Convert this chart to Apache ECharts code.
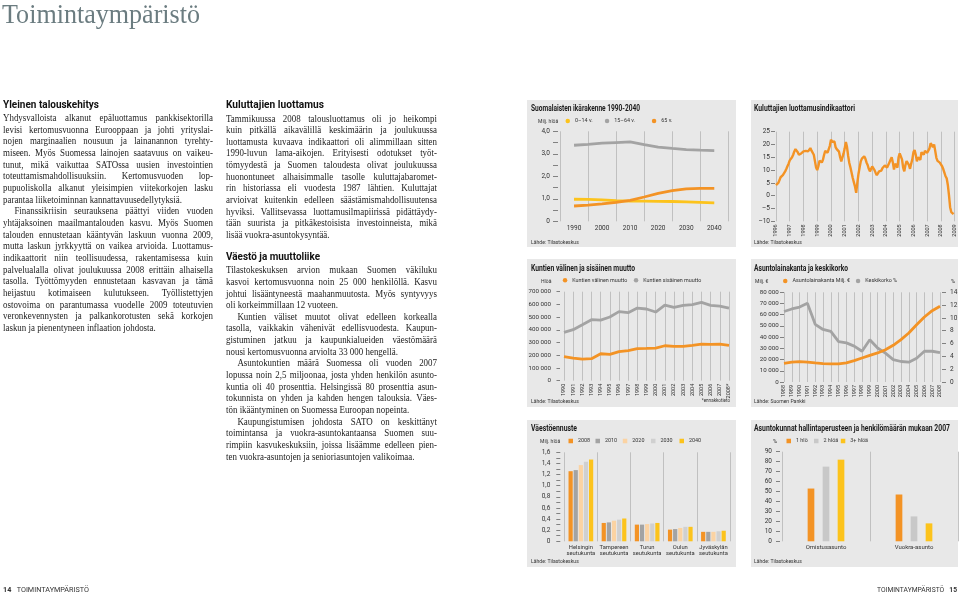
<!DOCTYPE html>
<html lang="fi"><head><meta charset="utf-8"><title>Toimintaympäristö</title>
<script src="https://cdn.jsdelivr.net/npm/echarts@6/dist/echarts.min.js"></script>
<style>
html,body{margin:0;padding:0;background:#fff;}
#page{position:relative;width:960px;height:593px;overflow:hidden;}
#chart{position:absolute;left:0;top:0;width:960px;height:593px;}
.title{position:absolute;left:2px;top:-2.5px;font-family:'Liberation Serif','DejaVu Serif',serif;font-size:27.5px;line-height:32px;color:#6b7c80;white-space:nowrap;transform-origin:0 0;}
.h{position:absolute;font-family:Roboto,sans-serif;font-weight:bold;font-size:11.5px;line-height:13px;color:#111;white-space:nowrap;transform-origin:0 0;}
.t{position:absolute;font-family:'Liberation Serif','DejaVu Serif',serif;font-size:10.2px;line-height:11.67px;color:#222;transform-origin:0 0;}
.t div{height:11.67px;text-align:justify;text-align-last:justify;white-space:nowrap;}
.t div.l{text-align-last:left;}
.t div.i{text-indent:13px;}
.foot{position:absolute;top:584.5px;font-family:Roboto,sans-serif;font-size:7px;line-height:10px;color:#333;white-space:nowrap;transform-origin:0 0;}
.foot b{font-weight:bold;}
</style></head>
<body><div id="page">
<div id="chart"></div>
<div class="title" data-w="198">Toimintaympäristö</div>

<div class="h" data-w="96" style="left:3px;top:98px;">Yleinen talouskehitys</div>
<div class="t" style="left:3px;top:112px;width:240px;transform:scaleX(0.875);">
<div>Yhdysvalloista alkanut epäluottamus pankkisektorilla</div>
<div>levisi kertomusvuonna Eurooppaan ja johti yrityslai-</div>
<div>nojen marginaalien nousuun ja lainanannon tyrehty-</div>
<div>miseen. Myös Suomessa lainojen saatavuus on vaikeu-</div>
<div>tunut, mikä vaikuttaa SATOssa uusien investointien</div>
<div>toteuttamismahdollisuuksiin. Kertomusvuoden lop-</div>
<div>pupuoliskolla alkanut yleisimpien viitekorkojen lasku</div>
<div class="l">parantaa liiketoiminnan kannattavuusedellytyksiä.</div>
<div class="i">Finanssikriisin seurauksena päättyi viiden vuoden</div>
<div>yhtäjaksoinen maailmantalouden kasvu. Myös Suomen</div>
<div>talouden ennustetaan kääntyvän laskuun vuonna 2009,</div>
<div>mutta laskun jyrkkyyttä on vaikea arvioida. Luottamus-</div>
<div>indikaattorit niin teollisuudessa, rakentamisessa kuin</div>
<div>palvelualalla olivat joulukuussa 2008 erittäin alhaisella</div>
<div>tasolla. Työttömyyden ennustetaan kasvavan ja tämä</div>
<div>heijastuu kotimaiseen kulutukseen. Työllistettyjen</div>
<div>ostovoima on parantumassa vuodelle 2009 toteutuvien</div>
<div>veronkevennysten ja palkankorotusten sekä korkojen</div>
<div class="l">laskun ja pienentyneen inflaation johdosta.</div>
</div>

<div class="h" data-w="98" style="left:226px;top:98px;">Kuluttajien luottamus</div>
<div class="t" style="left:226px;top:112.5px;width:241px;transform:scaleX(0.8755);">
<div>Tammikuussa 2008 talousluottamus oli jo heikompi</div>
<div>kuin pitkällä aikavälillä keskimäärin ja joulukuussa</div>
<div>luottamusta kuvaava indikaattori oli alimmillaan sitten</div>
<div>1990-luvun lama-aikojen. Erityisesti odotukset työt-</div>
<div>tömyydestä ja Suomen taloudesta olivat joulukuussa</div>
<div>huonontuneet alhaisimmalle tasolle kuluttajabaromet-</div>
<div>rin historiassa eli vuodesta 1987 lähtien. Kuluttajat</div>
<div>arvioivat kuitenkin edelleen säästämismahdollisuutensa</div>
<div>hyviksi. Vallitsevassa luottamusilmapiirissä pidättäydy-</div>
<div>tään suurista ja pitkäkestoisista investoinneista, mikä</div>
<div class="l">lisää vuokra-asuntokysyntää.</div>
</div>

<div class="h" data-w="94" style="left:226px;top:249.5px;">Väestö ja muuttoliike</div>
<div class="t" style="left:226px;top:264.2px;width:241px;transform:scaleX(0.8755);">
<div>Tilastokeskuksen arvion mukaan Suomen väkiluku</div>
<div>kasvoi kertomusvuonna noin 25 000 henkilöllä. Kasvu</div>
<div>johtui lisääntyneestä maahanmuutosta. Myös syntyvyys</div>
<div class="l">oli korkeimmillaan 12 vuoteen.</div>
<div class="i">Kuntien väliset muutot olivat edelleen korkealla</div>
<div>tasolla, vaikkakin vähenivät edellisvuodesta. Kaupun-</div>
<div>gistuminen jatkuu ja kaupunkialueiden väestömäärä</div>
<div class="l">nousi kertomusvuonna arviolta 33 000 hengellä.</div>
<div class="i">Asuntokuntien määrä Suomessa oli vuoden 2007</div>
<div>lopussa noin 2,5 miljoonaa, josta yhden henkilön asunto-</div>
<div>kuntia oli 40 prosenttia. Helsingissä 80 prosenttia asun-</div>
<div>tokunnista on yhden ja kahden hengen talouksia. Väes-</div>
<div class="l">tön ikääntyminen on Suomessa Euroopan nopeinta.</div>
<div class="i">Kaupungistumisen johdosta SATO on keskittänyt</div>
<div>toimintansa ja vuokra-asuntokantaansa Suomen suu-</div>
<div>rimpiin kasvukeskuksiin, joissa lisäämme edelleen pien-</div>
<div class="l">ten vuokra-asuntojen ja senioriasuntojen valikoimaa.</div>
</div>

<div class="foot" data-w="86" style="left:3px;"><b>14</b>&nbsp;&nbsp;&nbsp;TOIMINTAYMPÄRISTÖ</div>
<div class="foot" data-w="80" data-right="957" style="left:877px;">TOIMINTAYMPÄRISTÖ&nbsp;&nbsp;&nbsp;<b>15</b></div>
</div>
<script>
// ---------- DATA ----------
// Suomalaisten ikärakenne 1990-2040 (milj. hlöä)
const ageYears = ['1985','1990','1995','2000','2005','2010','2015','2020','2025','2030','2035','2040','2045'];
const age0to14 = [null,0.98,0.97,0.95,0.92,0.90,0.90,0.89,0.88,0.86,0.84,0.82,null];
const age15to64 = [null,3.38,3.42,3.47,3.50,3.53,3.41,3.30,3.24,3.19,3.16,3.14,null];
const age65plus = [null,0.68,0.72,0.77,0.84,0.93,1.08,1.24,1.36,1.44,1.46,1.46,null];

// Kuluttajien luottamusindikaattori, kuukausittain 1996-2008
const confYears = ['1996','1997','1998','1999','2000','2001','2002','2003','2004','2005','2006','2007','2008','2009'];
const confidence = [
 4.1,4.6,5,6,7.2,7.5,8,8.5,9.5,10.4,11.5,12.5,
 13.8,14.5,15,16,17.3,18.2,18.4,17,16,15.5,16.5,17,
 17.3,16.7,17.5,18,17.3,18,18.6,17.6,17.8,16,13.5,11,
 10,11.5,13.7,14,13,14,16,17.5,17,16.8,17.3,19.5,
 21.9,21,20.8,21.2,19,18.2,18.6,17.2,15,13.4,15,16.5,
 18.5,21,19,15.5,12.8,11,9,6.9,5.2,3.5,1.1,5,
 8.5,11,13.4,14.5,15,15.4,14.5,13,12,10.5,9.5,9,
 11.4,11,10,8.9,8,8.6,9.5,9,9.8,10.8,11.4,11.8,
 12,11,12,13,14,15,13,10.2,12.5,11.8,11,15,
 16.5,17,14.2,11,9.5,12,13.5,13.2,12,10.5,12.5,14.2,
 17,17.8,16,13.4,15,14.8,14,17,17.5,16,17.5,17.5,
 16.8,17.2,18.5,20.5,20,19,20,17.5,14.8,13.6,13.3,12.9,
 12.3,11.5,10.4,9,7.6,6.8,4.2,0.2,-4.5,-6.4,-7,-7.2,
 null];

// Kuntien välinen ja sisäinen muutto (hlöä)
const migYears = ['1990','1991','1992','1993','1994','1995','1996','1997','1998','1999','2000','2001','2002','2003','2004','2005','2006','2007','2008*'];
const migBetween = [189000,178000,170000,173000,212000,207000,228000,236000,252000,254000,257000,275000,270000,270000,278000,288000,286000,288000,278000];
const migWithin = [380000,401000,440000,480000,477000,501000,543000,535000,571000,564000,540000,595000,577000,592000,598000,616000,592000,587000,571000];

// Asuntolainakanta (milj. €) ja keskikorko (%)
const loanYears = ['1988','1989','1990','1991','1992','1993','1994','1995','1996','1997','1998','1999','2000','2001','2002','2003','2004','2005','2006','2007','2008'];
const loanStock = [16700,17800,18100,17800,17000,16400,16100,16100,17000,19000,21400,23800,25900,28800,32700,37800,43700,51000,58000,63600,67500];
const avgRate = [11.0,11.4,11.7,12.3,9.0,8.2,7.9,6.3,6.1,5.6,4.8,6.6,5.3,4.5,3.5,3.2,3.1,3.7,4.8,4.8,4.6];

// Väestöennuste (milj. hlöä)
const regions = ['Helsingin\nseutukunta','Tampereen\nseutukunta','Turun\nseutukunta','Oulun\nseutukunta','Jyväskylän\nseutukunta'];
const pop2008 = [1.26,0.33,0.30,0.21,0.17];
const pop2010 = [1.28,0.34,0.30,0.22,0.17];
const pop2020 = [1.37,0.37,0.31,0.24,0.17];
const pop2030 = [1.43,0.39,0.32,0.26,0.18];
const pop2040 = [1.47,0.41,0.33,0.26,0.19];

// Asuntokunnat hallintaperusteen ja henkilömäärän mukaan 2007 (%)
const tenure = ['Omistusasunto','Vuokra-asunto'];
const hh1 = [53,47];
const hh2 = [75,25];
const hh3 = [82,18];

// Panel titles and sources
const chartTitles = ['Suomalaisten ikärakenne 1990-2040','Kuluttajien luottamusindikaattori','Kuntien välinen ja sisäinen muutto','Asuntolainakanta ja keskikorko','Väestöennuste','Asuntokunnat hallintaperusteen ja henkilömäärän mukaan 2007'];
const chartSources = ['Lähde: Tilastokeskus','Lähde: Tilastokeskus','Lähde: Tilastokeskus','Lähde: Suomen Pankki','Lähde: Tilastokeskus','Lähde: Tilastokeskus'];

// ---------- HTML text fitting ----------
document.querySelectorAll('[data-w]').forEach(el => {
  const w = el.getBoundingClientRect().width;
  const k = (+el.dataset.w) / w;
  el.style.transform = 'scaleX(' + k + ')';
  if (el.dataset.right) el.style.left = (+el.dataset.right - (+el.dataset.w)) + 'px';
});

// ---------- STYLE ----------
const F = 'Roboto, sans-serif';
const TXT = '#333';
const ORANGE = '#f39325', YELLOW = '#fcc31c', GREY = '#a3a3a3', PEACH = '#fbd3a3', LGREY = '#d0d0d0', LGREY2 = '#c8c8c8';
const BG = '#e8e8e8';
const SPLIT = {color:'#b5b5b5', width:0.8};
const TICK = {color:'#666', width:0.8};
const LBL = {fontFamily:F, fontSize:6.5, color:TXT};

const monthCats = [];
confYears.forEach((y, i) => { if (i < confYears.length - 1) { for (let m = 1; m <= 12; m++) monthCats.push(y + '-' + (m < 10 ? '0' + m : m)); } else monthCats.push(y + '-01'); });

function thousands(v){ return v === 0 ? '0' : String(v).replace(/\B(?=(\d{3})+(?!\d))/g, ' '); }
function dec1(v){ return v === 0 ? '0' : v.toFixed(1).replace('.', ','); }

const mctx = document.createElement('canvas').getContext('2d');
function measure(s, font){ mctx.font = font; return mctx.measureText(s).width; }

function yAx(gi, min, max, interval, fmt, o){
  return Object.assign({
    type:'value', gridIndex:gi, min:min, max:max, interval:interval,
    axisLine:{show:false}, splitLine:{show:false},
    axisTick:{show:true, length:4, lineStyle:TICK},
    axisLabel:Object.assign({formatter:fmt, margin:6}, LBL)
  }, o || {});
}

function lg(name, x, yc, icon){
  return {data:[name], left:x, top:yc - 3.5, icon:icon || 'circle', itemWidth:4.5, itemHeight:4.5, itemGap:0,
    padding:0, selectedMode:false, textStyle:{fontFamily:F, fontSize:5.4, color:TXT}};
}

function txt(x, y, s, size, sx, o){
  return {type:'text', z:10, x:x, y:y, scaleX:sx || 1, silent:true,
    style:Object.assign({x:0, y:0, text:s, fill:TXT, font:size + 'px ' + F, textVerticalAlign:'middle', textAlign:'left'}, o || {})};
}

const panels = [[527,100,209,147],[751,100,207,147],[527,259,209,148],[751,259,207,148],[527,420,209,147],[751,420,207,147]];
const titlePos = [[531,108.7],[754,108.7],[531,268.7],[754,268.7],[531,428.7],[754,428.7]];
const titleW = [109,101,104,94,46,196];
const srcPos = [[531,242],[754,242],[531,401],[754,401],[531,561.3],[754,561.3]];
const TFONT = 'bold 8.5px ' + F;

const titleGraphics = chartTitles.map((t, i) => {
  const k = titleW[i] / measure(t, TFONT);
  return {type:'text', z:10, silent:true, x:titlePos[i][0], y:titlePos[i][1], scaleX:k,
    style:{x:0, y:0, text:t, fill:'#1a1a1a', font:TFONT, textVerticalAlign:'middle', textAlign:'left'}};
});
const srcGraphics = chartSources.map((s, i) => txt(srcPos[i][0], srcPos[i][1], s, 6, 0.85));

const option = {
  animation:false,
  backgroundColor:'transparent',
  legend:[
    lg('0–14 v.', 565.5, 122), lg('15–64 v.', 604.8, 122), lg('65 v.', 651.8, 122),
    lg('Kuntien välinen muutto', 562.8, 281.3), lg('Kuntien sisäinen muutto', 633.8, 281.3),
    lg('Asuntolainakanta Milj. €', 783, 282), lg('Keskikorko %', 855.8, 282),
    lg('2008', 568.5, 442, 'rect'), lg('2010', 595.5, 442, 'rect'), lg('2020', 622.8, 442, 'rect'), lg('2030', 651, 442, 'rect'), lg('2040', 679.5, 442, 'rect'),
    lg('1 hlö', 786.5, 442, 'rect'), lg('2 hlöä', 814, 442, 'rect'), lg('3+ hlöä', 840.8, 442, 'rect')
  ],
  grid:[
    {left:560, top:131.3, width:168.3, height:90},
    {left:776, top:131.7, width:178.7, height:89.6},
    {left:564, top:291.7, width:165, height:89},
    {left:784, top:292.3, width:156, height:89.7},
    {left:564.3, top:452.3, width:165.7, height:89},
    {left:782, top:451.7, width:176, height:89.6}
  ].map(g => Object.assign(g, {outerBoundsMode:'none', containLabel:false})),
  xAxis:[
    {type:'category', gridIndex:0, data:ageYears, boundaryGap:false, axisLine:{show:false}, axisTick:{show:false},
      axisLabel:Object.assign({interval:(i, v) => (+v) % 10 === 0, margin:4}, LBL),
      splitLine:{show:true, interval:(i, v) => (+v) % 10 === 5, lineStyle:SPLIT}},
    {type:'category', gridIndex:1, data:monthCats, boundaryGap:false, axisLine:{show:false}, axisTick:{show:false},
      axisLabel:Object.assign({interval:(i, v) => v.slice(5) === '01', rotate:90, margin:3, formatter:v => v.slice(0, 4)}, LBL, {fontSize:5.5}),
      splitLine:{show:true, interval:(i, v) => v.slice(5) === '01', lineStyle:SPLIT}},
    {type:'category', gridIndex:2, data:migYears, boundaryGap:false, axisLine:{show:false}, axisTick:{show:false},
      axisLabel:Object.assign({interval:0, rotate:90, margin:3}, LBL, {fontSize:5.5}),
      splitLine:{show:true, interval:0, lineStyle:SPLIT}},
    {type:'category', gridIndex:3, data:loanYears, boundaryGap:false, axisLine:{show:false}, axisTick:{show:false},
      axisLabel:Object.assign({interval:0, rotate:90, margin:3}, LBL, {fontSize:5.5}),
      splitLine:{show:true, interval:0, lineStyle:SPLIT}},
    {type:'category', gridIndex:4, data:regions, boundaryGap:true, axisLine:{show:false}, axisTick:{show:false},
      axisLabel:Object.assign({interval:0, margin:3, lineHeight:6.3}, LBL, {fontSize:5.8}),
      splitLine:{show:true, interval:0, lineStyle:SPLIT}},
    {type:'category', gridIndex:5, data:tenure, boundaryGap:true, axisLine:{show:false}, axisTick:{show:false},
      axisLabel:Object.assign({interval:0, margin:3}, LBL, {fontSize:6}),
      splitLine:{show:true, interval:0, lineStyle:SPLIT}}
  ],
  yAxis:[
    yAx(0, 0, 4, 0.5, null, {offset:2, axisTick:{show:true, length:5, lineStyle:TICK}, axisLabel:Object.assign({margin:8, formatter:v => (Math.abs(v - Math.round(v)) < 1e-6 ? dec1(v) : '')}, LBL)}),
    yAx(1, -10, 25, 5, null, {offset:1, axisLabel:Object.assign({margin:5, formatter:v => String(v).replace('-', '–')}, LBL)}),
    yAx(2, 0, 700000, 100000, null, {offset:4, axisTick:{show:true, length:3.5, lineStyle:TICK}, axisLabel:Object.assign({margin:9, formatter:thousands}, LBL, {fontSize:6.2})}),
    yAx(3, 0, 80000, 10000, null, {offset:0, axisLabel:Object.assign({margin:5.3, formatter:thousands}, LBL, {fontSize:6.2})}),
    yAx(3, 0, 14, 2, null, {position:'right', offset:2, axisLabel:Object.assign({margin:8, formatter:v => String(v)}, LBL)}),
    yAx(4, 0, 1.6, 0.1, null, {offset:4, axisLabel:Object.assign({margin:10, formatter:v => { const k = Math.round(v * 10); return k % 2 === 0 ? dec1(k / 10) : ''; }}, LBL)}),
    yAx(5, 0, 90, 10, null, {offset:2, axisLabel:Object.assign({margin:8, formatter:v => String(v)}, LBL)})
  ],
  series:[
    {name:'15–64 v.', type:'line', xAxisIndex:0, yAxisIndex:0, data:age15to64, showSymbol:false, lineStyle:{width:2.8, color:GREY}, itemStyle:{color:GREY}},
    {name:'0–14 v.', type:'line', xAxisIndex:0, yAxisIndex:0, data:age0to14, showSymbol:false, lineStyle:{width:2.8, color:YELLOW}, itemStyle:{color:YELLOW}},
    {name:'65 v.', type:'line', xAxisIndex:0, yAxisIndex:0, data:age65plus, showSymbol:false, lineStyle:{width:2.8, color:ORANGE}, itemStyle:{color:ORANGE}},
    {name:'Luottamusindikaattori', type:'line', xAxisIndex:1, yAxisIndex:1, data:confidence, showSymbol:false, lineStyle:{width:2.4, color:ORANGE}, itemStyle:{color:ORANGE}},
    {name:'Kuntien sisäinen muutto', type:'line', xAxisIndex:2, yAxisIndex:2, data:migWithin, showSymbol:false, lineStyle:{width:2.8, color:GREY}, itemStyle:{color:GREY}},
    {name:'Kuntien välinen muutto', type:'line', xAxisIndex:2, yAxisIndex:2, data:migBetween, showSymbol:false, lineStyle:{width:2.8, color:ORANGE}, itemStyle:{color:ORANGE}},
    {name:'Keskikorko %', type:'line', xAxisIndex:3, yAxisIndex:4, data:avgRate, showSymbol:false, lineStyle:{width:2.8, color:GREY}, itemStyle:{color:GREY}},
    {name:'Asuntolainakanta Milj. €', type:'line', xAxisIndex:3, yAxisIndex:3, data:loanStock, showSymbol:false, lineStyle:{width:2.8, color:ORANGE}, itemStyle:{color:ORANGE}},
    {name:'2008', type:'bar', xAxisIndex:4, yAxisIndex:5, data:pop2008, barWidth:4.2, barGap:'22%', itemStyle:{color:ORANGE}},
    {name:'2010', type:'bar', xAxisIndex:4, yAxisIndex:5, data:pop2010, barWidth:4.2, barGap:'22%', itemStyle:{color:GREY}},
    {name:'2020', type:'bar', xAxisIndex:4, yAxisIndex:5, data:pop2020, barWidth:4.2, barGap:'22%', itemStyle:{color:PEACH}},
    {name:'2030', type:'bar', xAxisIndex:4, yAxisIndex:5, data:pop2030, barWidth:4.2, barGap:'22%', itemStyle:{color:LGREY}},
    {name:'2040', type:'bar', xAxisIndex:4, yAxisIndex:5, data:pop2040, barWidth:4.2, barGap:'22%', itemStyle:{color:YELLOW}},
    {name:'1 hlö', type:'bar', xAxisIndex:5, yAxisIndex:6, data:hh1, barWidth:6.7, barGap:'124%', itemStyle:{color:ORANGE}},
    {name:'2 hlöä', type:'bar', xAxisIndex:5, yAxisIndex:6, data:hh2, barWidth:6.7, barGap:'124%', itemStyle:{color:LGREY2}},
    {name:'3+ hlöä', type:'bar', xAxisIndex:5, yAxisIndex:6, data:hh3, barWidth:6.7, barGap:'124%', itemStyle:{color:YELLOW}}
  ],
  graphic:[].concat(
    panels.map(p => ({type:'rect', z:-10, silent:true, shape:{x:p[0], y:p[1], width:p[2], height:p[3]}, style:{fill:BG}})),
    titleGraphics,
    srcGraphics,
    [
      txt(538, 122, 'Milj. hlöä', 5.6, 0.9),
      txt(541, 281.3, 'Hlöä', 5.6, 0.9),
      txt(755, 282, 'Milj. €', 5.6, 0.9),
      txt(955, 282, '%', 5.6, 1, {textAlign:'right'}),
      txt(540, 442, 'Milj. hlöä', 5.6, 0.9),
      txt(773, 442, '%', 5.6, 1),
      txt(730, 401, '*ennakkotieto', 5.4, 0.85, {textAlign:'right'})
    ]
  )
};

const chart = echarts.init(document.getElementById('chart'), null, {renderer:'canvas', width:960, height:593});
chart.setOption(option);
</script>
</body></html>
